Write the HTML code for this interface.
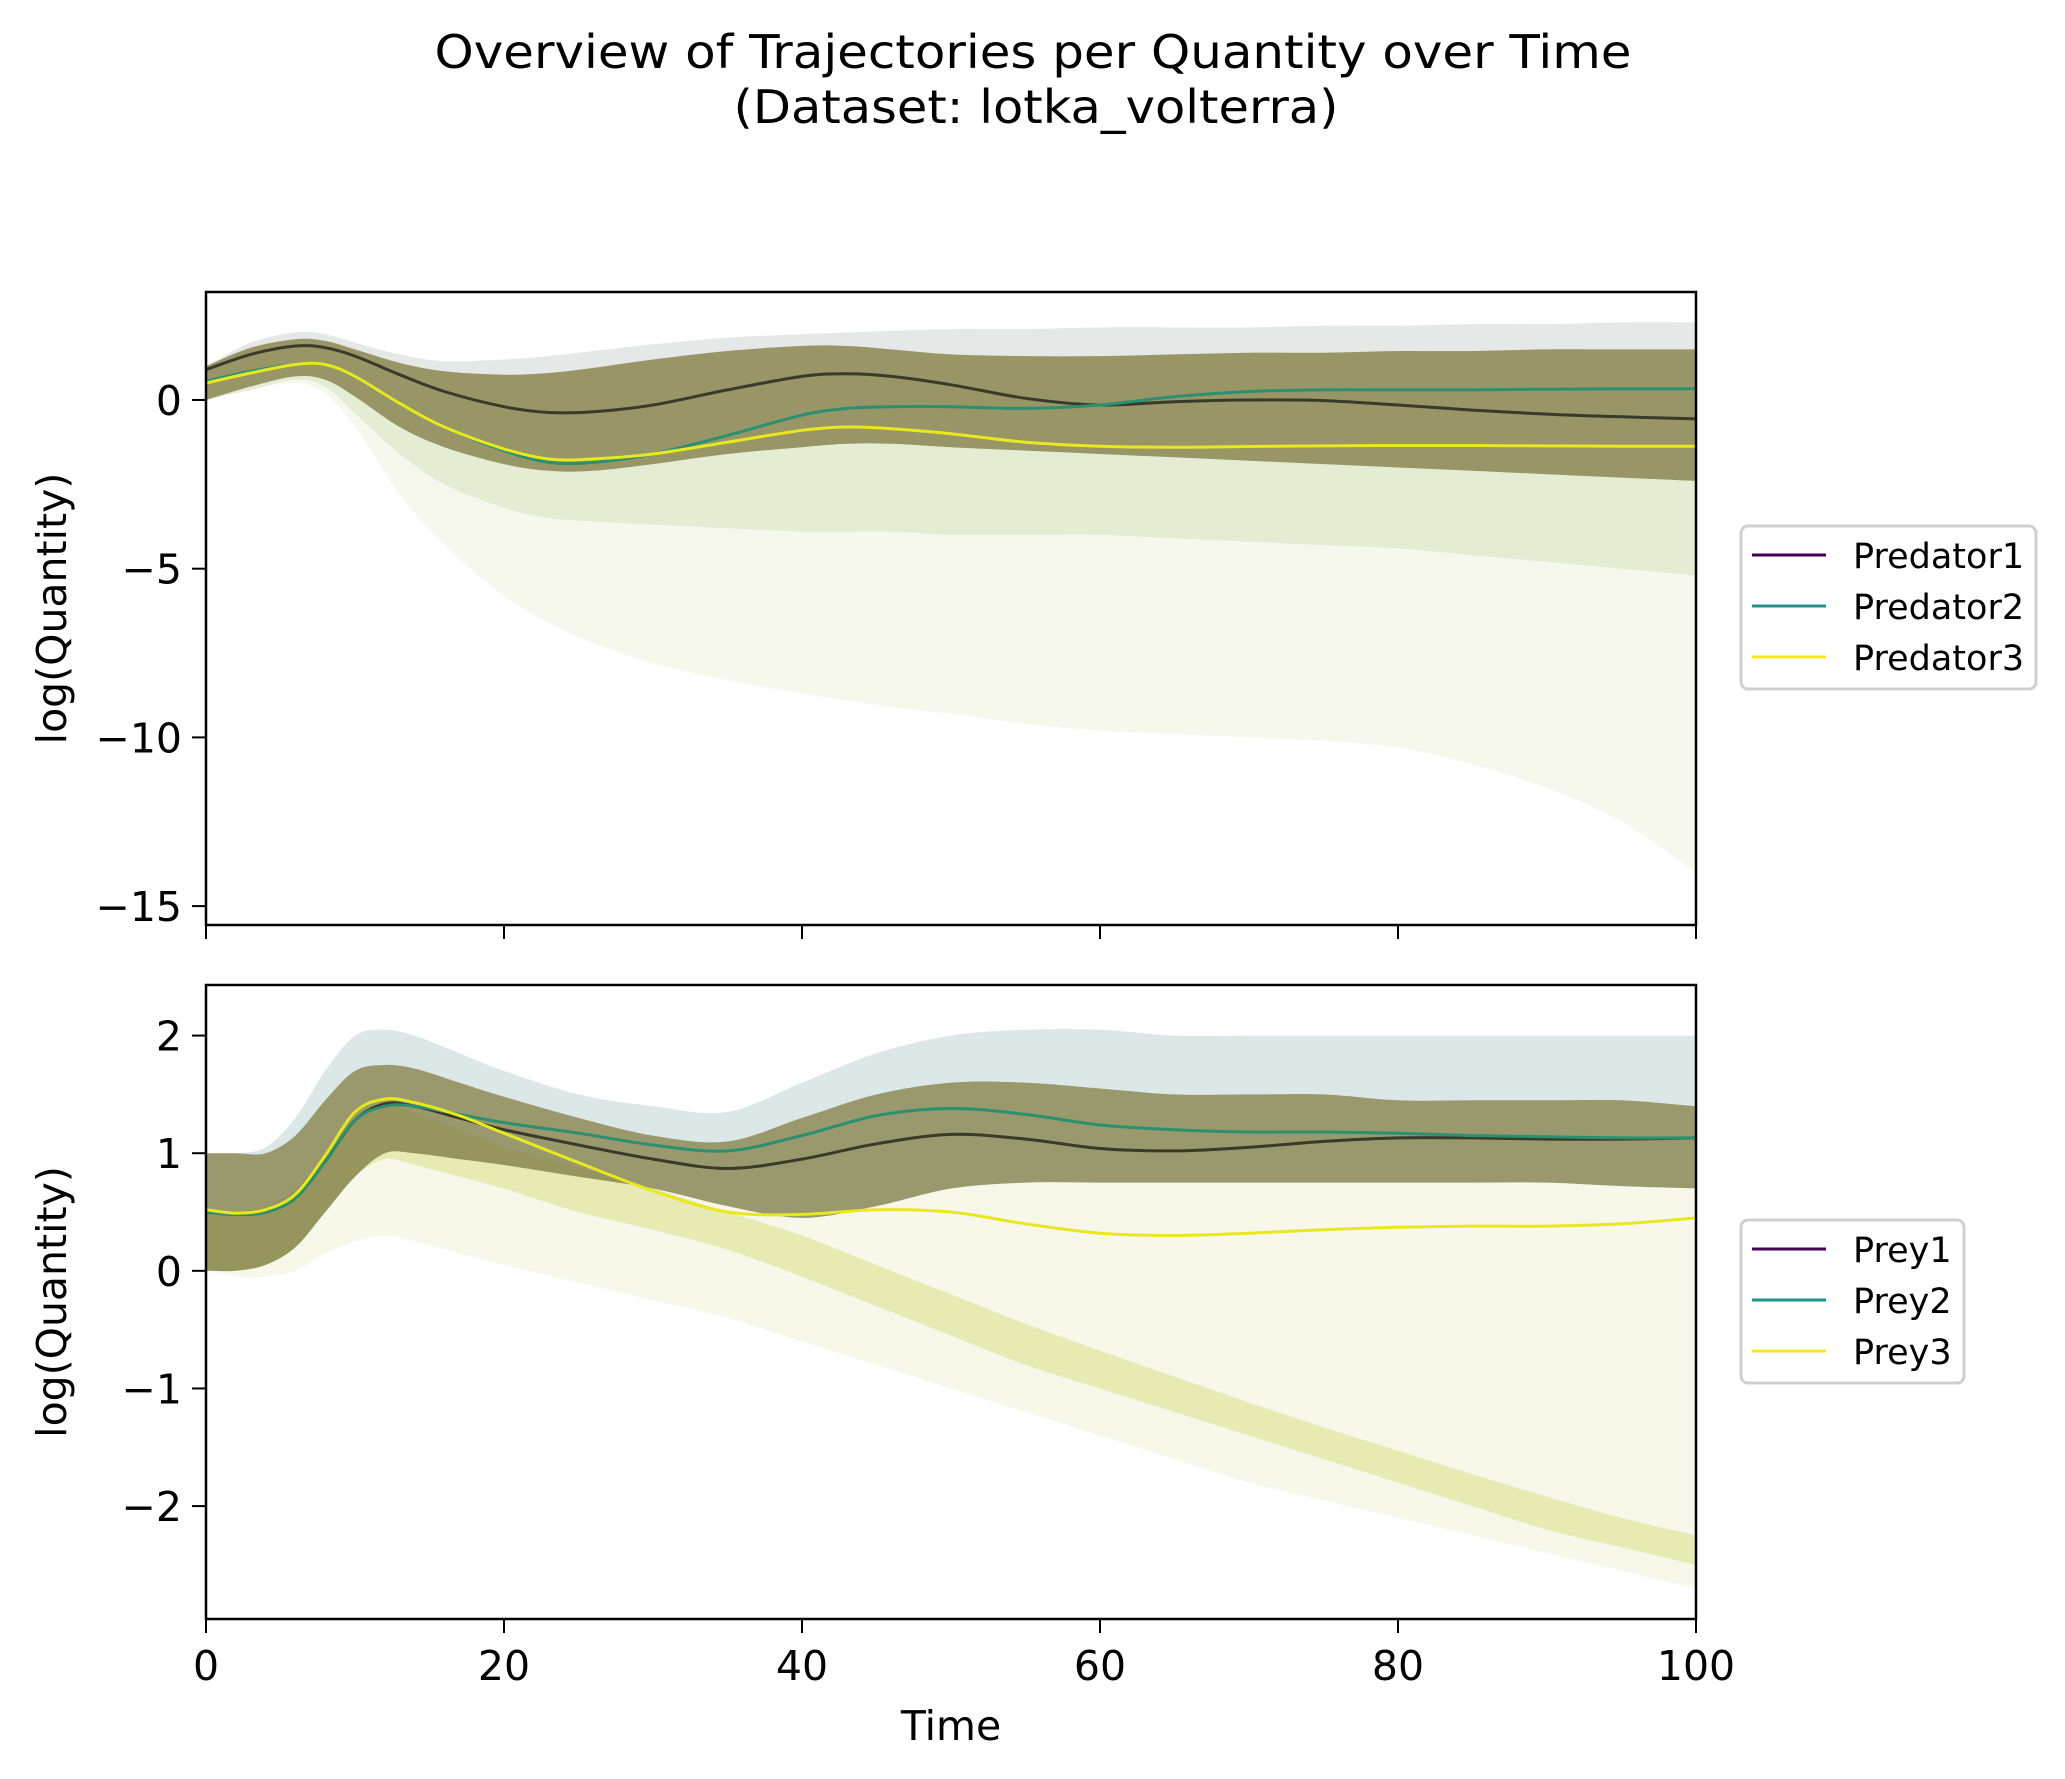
<!DOCTYPE html>
<html><head><meta charset="utf-8"><style>
html,body{margin:0;padding:0;background:#fff;}
svg{display:block;font-family:"DejaVu Sans","Liberation Sans",sans-serif;}
</style></head><body>
<svg id="chart" width="2065" height="1779" viewBox="0 0 2065 1779" xmlns="http://www.w3.org/2000/svg">
<text x="1033" y="68" font-size="46" text-anchor="middle" textLength="1197" lengthAdjust="spacingAndGlyphs">Overview of Trajectories per Quantity over Time</text>
<text x="1036" y="123" font-size="46" text-anchor="middle" textLength="605" lengthAdjust="spacingAndGlyphs">(Dataset: lotka_volterra)</text>
<g id="top"></g>
<g id="bot"></g>
</svg>
<script>
// ---- data ----
const predTimes = [0,3,6,8,10,13,16,20,23,26,30,35,40,43,46,50,55,60,65,70,75,80,85,90,95,100];
const predator1 = [0.9,1.35,1.6,1.55,1.3,0.75,0.25,-0.2,-0.37,-0.35,-0.15,0.3,0.7,0.78,0.7,0.45,0.05,-0.15,-0.05,0.0,-0.02,-0.15,-0.3,-0.42,-0.5,-0.56];
const predator2 = [0.55,0.85,1.05,1.05,0.7,-0.1,-0.8,-1.5,-1.85,-1.85,-1.6,-1.05,-0.45,-0.25,-0.2,-0.2,-0.25,-0.15,0.1,0.25,0.3,0.3,0.3,0.32,0.33,0.33];
const predator3 = [0.5,0.8,1.05,1.05,0.7,-0.1,-0.8,-1.45,-1.75,-1.75,-1.6,-1.25,-0.9,-0.8,-0.85,-1.0,-1.25,-1.37,-1.4,-1.38,-1.36,-1.35,-1.35,-1.36,-1.37,-1.37];
const predOuterUpper = [1.0,1.7,2.0,1.95,1.7,1.35,1.15,1.2,1.3,1.45,1.65,1.85,1.95,2.0,2.05,2.1,2.1,2.15,2.15,2.15,2.2,2.2,2.25,2.25,2.3,2.3];
const predCoreUpper  = [1.0,1.55,1.8,1.75,1.5,1.1,0.85,0.75,0.8,0.95,1.2,1.45,1.6,1.6,1.5,1.35,1.3,1.3,1.35,1.4,1.4,1.45,1.45,1.5,1.5,1.5];
const predCoreLower  = [0.0,0.4,0.7,0.6,0.1,-0.8,-1.4,-1.9,-2.1,-2.1,-1.9,-1.6,-1.4,-1.3,-1.3,-1.4,-1.5,-1.6,-1.7,-1.8,-1.9,-2.0,-2.1,-2.2,-2.3,-2.4];
const predMidLower   = [0.0,0.3,0.6,0.4,-0.4,-1.6,-2.5,-3.2,-3.5,-3.6,-3.7,-3.8,-3.9,-3.9,-3.9,-4.0,-4.0,-4.0,-4.1,-4.2,-4.3,-4.4,-4.6,-4.8,-5.0,-5.2];
const predFaintLower = [0.0,0.3,0.5,0.2,-0.8,-2.8,-4.3,-5.8,-6.6,-7.2,-7.8,-8.3,-8.7,-8.9,-9.1,-9.3,-9.6,-9.8,-9.9,-10.0,-10.1,-10.3,-10.8,-11.5,-12.5,-14.0];

const preyTimes = [0,2,4,6,8,10,12,14,17,20,25,30,35,40,45,50,55,60,65,70,75,80,85,90,95,100];
const prey1 = [0.5,0.48,0.5,0.62,0.93,1.28,1.42,1.4,1.3,1.2,1.07,0.95,0.87,0.95,1.08,1.16,1.12,1.04,1.02,1.05,1.1,1.13,1.13,1.12,1.12,1.13];
const prey2 = [0.5,0.48,0.5,0.62,0.93,1.28,1.4,1.4,1.33,1.26,1.17,1.07,1.02,1.15,1.32,1.38,1.33,1.24,1.2,1.18,1.18,1.17,1.15,1.14,1.13,1.13];
const prey3 = [0.52,0.49,0.52,0.65,0.98,1.35,1.46,1.43,1.32,1.17,0.92,0.68,0.5,0.48,0.52,0.5,0.4,0.32,0.3,0.32,0.35,0.37,0.38,0.38,0.4,0.45];
const preyOuterUpper = [1.0,1.0,1.05,1.3,1.7,2.0,2.05,2.0,1.85,1.7,1.5,1.4,1.35,1.6,1.85,2.0,2.05,2.05,2.0,2.0,2.0,2.0,2.0,2.0,2.0,2.0];
const preyCoreUpper  = [1.0,1.0,1.0,1.15,1.45,1.7,1.75,1.72,1.6,1.48,1.3,1.15,1.1,1.3,1.5,1.6,1.6,1.55,1.5,1.5,1.5,1.45,1.45,1.45,1.45,1.4];
const preyCoreLower  = [0.0,0.0,0.05,0.2,0.5,0.8,1.0,1.0,0.95,0.9,0.8,0.7,0.55,0.45,0.55,0.7,0.75,0.75,0.75,0.75,0.75,0.75,0.75,0.75,0.72,0.7];
const preyStripUpper = [0.5,0.5,0.55,0.7,1.0,1.3,1.4,1.35,1.2,1.05,0.88,0.7,0.5,0.3,0.05,-0.2,-0.45,-0.68,-0.9,-1.12,-1.33,-1.53,-1.73,-1.92,-2.1,-2.25];
const preyStripLower = [0.0,0.0,0.05,0.2,0.5,0.8,0.95,0.9,0.8,0.7,0.5,0.35,0.18,-0.05,-0.3,-0.55,-0.8,-1.0,-1.2,-1.4,-1.6,-1.8,-2.0,-2.2,-2.35,-2.5];
const preyFaintLower = [0.0,-0.05,-0.05,0.0,0.15,0.25,0.3,0.25,0.15,0.05,-0.1,-0.25,-0.4,-0.6,-0.8,-1.0,-1.2,-1.4,-1.6,-1.8,-1.95,-2.1,-2.25,-2.4,-2.55,-2.7];

const xTicks = [0,20,40,60,80,100];
const predYTicks = [0,-5,-10,-15];
const preyYTicks = [2,1,0,-1,-2];
const predNames = ['Predator1','Predator2','Predator3'];
const preyNames = ['Prey1','Prey2','Prey3'];
const colors = ['#440154','#21918c','#fde725'];

const NS='http://www.w3.org/2000/svg';
const L=206,R=1696;
const xs = t => L + (t/100)*(R-L);
function mk(tag, attrs, parent){const e=document.createElementNS(NS,tag);for(const k in attrs)e.setAttribute(k,attrs[k]);parent.appendChild(e);return e;}
function smooth(pts, start){
  let d=(start?'M':'L')+pts[0][0].toFixed(1)+','+pts[0][1].toFixed(1);
  for(let i=0;i<pts.length-1;i++){
    const p0=pts[Math.max(0,i-1)],p1=pts[i],p2=pts[i+1],p3=pts[Math.min(pts.length-1,i+2)];
    const c1=[p1[0]+(p2[0]-p0[0])/6,p1[1]+(p2[1]-p0[1])/6];
    const c2=[p2[0]-(p3[0]-p1[0])/6,p2[1]-(p3[1]-p1[1])/6];
    d+='C'+c1[0].toFixed(1)+','+c1[1].toFixed(1)+' '+c2[0].toFixed(1)+','+c2[1].toFixed(1)+' '+p2[0].toFixed(1)+','+p2[1].toFixed(1);
  }
  return d;
}
function linePath(ts,vs,ys){return smooth(ts.map((t,i)=>[xs(t),ys(vs[i])]),true);}
function bandPath(ts,up,lo,ys){
  const a=ts.map((t,i)=>[xs(t),ys(up[i])]);
  const b=ts.map((t,i)=>[xs(t),ys(lo[i])]).reverse();
  return smooth(a,true)+smooth(b,false)+'Z';
}

function panel(g, top, bot, vTop, vBot, ts, bands, means, names, yTicks, legendTop, legendW, showXLabels){
  const ys = v => top + (vTop - v)/(vTop - vBot)*(bot-top);
  const clipId='clip'+top;
  const defs=mk('defs',{},g);
  const cp=mk('clipPath',{id:clipId},defs);
  mk('rect',{x:L,y:top,width:R-L,height:bot-top},cp);
  const plot=mk('g',{'clip-path':'url(#'+clipId+')'},g);
  bands.forEach(b=>{
    const p=mk('path',{d:bandPath(ts,b.up,b.lo,ys),fill:b.fill,'fill-opacity':b.op,stroke:'none'},plot);
    
    
  });
  means.forEach((m,i)=>{
    const p=mk('path',{d:linePath(ts,m,ys),fill:'none',stroke:['#3a3a2a','#2a9070','#e8e820'][i],'stroke-width':3},plot);
    
    
  });
  const frame=mk('rect',{x:L,y:top,width:R-L,height:bot-top,fill:'none',stroke:'#000','stroke-width':2.5},g);
  
  
  yTicks.forEach(v=>{
    const y=ys(v);
    mk('line',{x1:L-14,x2:L,y1:y,y2:y,stroke:'#000','stroke-width':2},g);
    const t=mk('text',{x:L-24,y:y+15,'font-size':41,'text-anchor':'end'},g);
    t.textContent=(v<0?'\u2212'+(-v):''+v);
    
    
  });
  xTicks.forEach(v=>{
    const x=xs(v);
    mk('line',{x1:x,x2:x,y1:bot,y2:bot+14,stroke:'#000','stroke-width':2},g);
    if(showXLabels){
      const t=mk('text',{x:x,y:1680,'font-size':41,'text-anchor':'middle'},g);
      t.textContent=''+v;
      
      
    }
  });
  const yl=mk('text',{x:0,y:0,'font-size':41,'text-anchor':'middle',transform:'translate(66,'+((top+bot)/2)+') rotate(-90)'},g);
  yl.textContent='log(Quantity)';
  
  
  const lg=mk('g',{},g);
  
  
  mk('rect',{x:1741,y:legendTop,width:legendW,height:163,rx:7,fill:'#fff',stroke:'#d0d0d0','stroke-width':3},lg);
  names.forEach((n,i)=>{
    const y=legendTop+29+i*51;
    const ln=mk('line',{x1:1752,x2:1826,y1:y,y2:y,stroke:colors[i],'stroke-width':3},lg);
    
    
    const t=mk('text',{x:1853,y:y+13,'font-size':35},lg);
    t.textContent=n;
    
    
  });
}

panel(document.getElementById('top'),292,925,3.2,-15.56,predTimes,[
  {up:predCoreUpper,lo:predFaintLower,fill:'#eef0d8',op:0.45,name:'faint-trajectory-spread'},
  {up:predCoreUpper,lo:predMidLower,fill:'#d6e2c0',op:0.55,name:'mid-trajectory-spread'},
  {up:predOuterUpper,lo:predCoreUpper,fill:'#a8b4b0',op:0.3,name:'upper-trajectory-spread'},
  {up:predCoreUpper,lo:predCoreLower,fill:'#84804a',op:0.8,name:'dense-trajectory-core'}
],[predator1,predator2,predator3],predNames,predYTicks,526,295,false);

panel(document.getElementById('bot'),985,1619,2.43,-2.96,preyTimes,[
  {up:preyCoreLower,lo:preyFaintLower,fill:'#f2f2dc',op:0.6,name:'faint-trajectory-spread'},
  {up:preyStripUpper,lo:preyStripLower,fill:'#e0e49a',op:0.7,name:'declining-trajectory-strip'},
  {up:preyOuterUpper,lo:preyCoreUpper,fill:'#88b4b0',op:0.3,name:'upper-trajectory-spread'},
  {up:preyCoreUpper,lo:preyCoreLower,fill:'#7e7c44',op:0.78,name:'dense-trajectory-core'}
],[prey1,prey2,prey3],preyNames,preyYTicks,1220,223,true);

const tl=mk('text',{x:951,y:1740,'font-size':41,'text-anchor':'middle'},document.getElementById('chart'));
tl.textContent='Time';


</script>
</body></html>
